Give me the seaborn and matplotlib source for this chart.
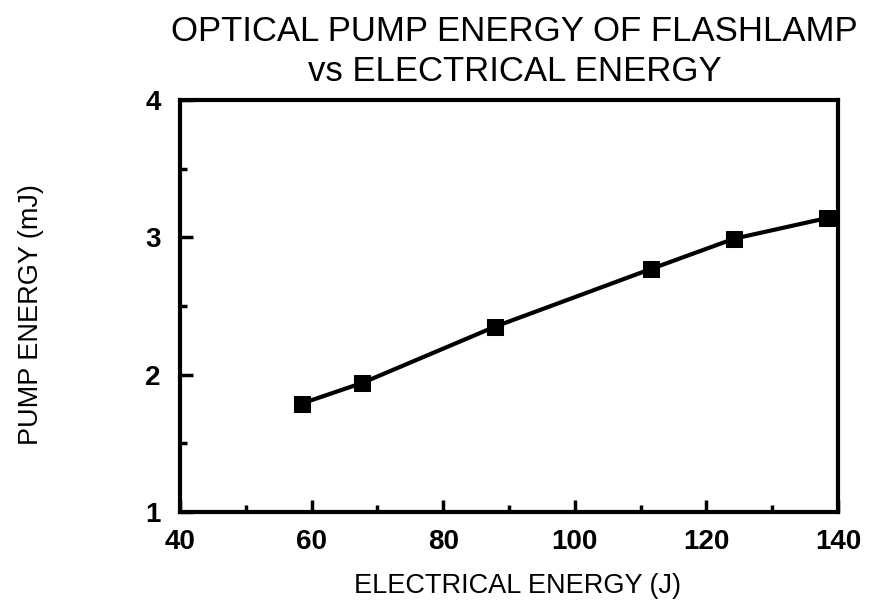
import matplotlib
matplotlib.use("Agg")
import matplotlib.pyplot as plt
import seaborn as sns
import pandas as pd
from matplotlib.ticker import MultipleLocator

electrical_energy = [58.5, 67.7, 87.9, 111.6, 124.2, 138.3]
pump_energy = [1.79, 1.94, 2.35, 2.77, 2.99, 3.14]

df = pd.DataFrame({"x": electrical_energy, "y": pump_energy})

sns.set_style("ticks")
plt.rcParams["font.family"] = ["Liberation Sans", "DejaVu Sans"]
plt.rcParams["text.color"] = "black"
plt.rcParams["axes.labelcolor"] = "black"

fig = plt.figure(figsize=(8.71, 6.04), dpi=100)
ax = fig.add_axes([180/871, 1-512/604, (838-180)/871, (512-100)/604])

sns.lineplot(data=df, x="x", y="y", ax=ax, color="black", linewidth=3,
             marker="s", markersize=12, markeredgecolor="black", markerfacecolor="black")

ax.set_xlim(40, 140)
ax.set_ylim(1, 4)
ax.xaxis.set_major_locator(MultipleLocator(20))
ax.xaxis.set_minor_locator(MultipleLocator(10))
ax.yaxis.set_major_locator(MultipleLocator(1))
ax.yaxis.set_minor_locator(MultipleLocator(0.5))
ax.tick_params(which="both", direction="in", width=2.5, colors="black",
               labelsize=20)
ax.tick_params(axis="x", pad=12)
ax.tick_params(axis="y", pad=14)
ax.tick_params(which="major", length=9)
ax.tick_params(which="minor", length=5)
for lab in ax.get_xticklabels() + ax.get_yticklabels():
    lab.set_fontweight("bold")
for s in ax.spines.values():
    s.set_linewidth(3)
    s.set_color("black")

ax.set_xlabel("ELECTRICAL ENERGY (J)", fontsize=19.5, color="black")
ax.xaxis.set_label_coords((517-180)/658, -(573-512)/412)
ax.set_ylabel("PUMP ENERGY (mJ)", fontsize=19.5, color="black")
ax.yaxis.set_label_coords(-(180-44)/658, (512-315)/412)
fig.text(0.591, 0.975, "OPTICAL PUMP ENERGY OF FLASHLAMP\nvs ELECTRICAL ENERGY",
         ha="center", va="top", fontsize=25, linespacing=1.25, color="black")

fig.savefig("out.png", dpi=100)
